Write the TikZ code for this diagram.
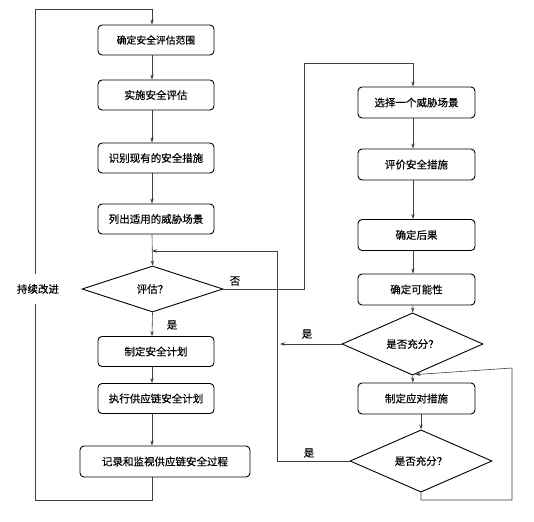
\documentclass[tikz,border=0pt]{standalone}
\usepackage{fontspec}
\newfontfamily\cjk[FakeBold=0.4]{Noto Sans CJK SC}
\usetikzlibrary{shapes.geometric,arrows.meta,calc}
\begin{document}
\begin{tikzpicture}[x=1pt,y=-1pt,
  box/.style={draw=black, line width=0.9pt, rounded corners=4pt, minimum width=116pt, minimum height=30pt, inner sep=0pt, font=\cjk\fontsize{10.5}{12}\selectfont},
  dec/.style={draw=black, line width=0.9pt, diamond, inner sep=0pt, minimum width=141pt, minimum height=46pt, font=\cjk\fontsize{10.5}{12}\selectfont},
  conn/.style={draw=black!75, line width=0.6pt},
  arr/.style={conn, -{Stealth[length=5pt,width=3.4pt]}},
  lbl/.style={font=\cjk\fontsize{10.5}{12}\selectfont, inner sep=1pt}]
\useasboundingbox (0,0) rectangle (534,521);
\coordinate (axL) at (152,0);
\coordinate (axR) at (413,0);
% left column
\node[box, font=\cjk\fontsize{9.8}{12}\selectfont] (b1) at (156,40) {确定安全评估范围};
\node[box] (b2) at (156,95) {实施安全评估};
\node[box] (b3) at (156,158) {识别现有的安全措施};
\node[box] (b4) at (156,219) {列出适用的威胁场景};
\node[dec] (d1) at (152.5,289) {评估？};
\node[box] (b5) at (156,351.5) {制定安全计划};
\node[box] (b6) at (156,398.5) {执行供应链安全计划};
\node[box, minimum width=170pt, minimum height=31pt] (b7) at (165,461.5) {记录和监视供应链安全过程};
% right column
\node[box, minimum width=117pt, minimum height=31pt] (r1) at (416.5,102.5) {选择一个威胁场景};
\node[box, minimum width=117pt, minimum height=31pt] (r2) at (416.5,164.5) {评价安全措施};
\node[box, minimum width=117pt, minimum height=31pt] (r3) at (416.5,235) {确定后果};
\node[box, minimum width=117pt, minimum height=31pt] (r4) at (416.5,289.5) {确定可能性};
\node[dec] (e1) at (412.5,344) {是否充分？};
\node[box, minimum width=117pt, minimum height=31pt] (r5) at (416.5,398.5) {制定应对措施};
\node[dec, minimum width=142pt] (e2) at (421,461) {是否充分？};
% helper coordinates
\coordinate (lpB) at (35,500);
\coordinate (lpT) at (35,9);
\coordinate (jNo) at (304,289);
\coordinate (jTop) at (304,63);
\coordinate (vB) at (277,461);
\coordinate (vT) at (277,251);
\coordinate (vM) at (277,344);
\coordinate (rb) at (421,500);
\coordinate (rc) at (512,500);
\coordinate (rt) at (512,368);
% left connectors
\draw[arr] (b1.south -| axL) -- (b2.north -| axL);
\draw[arr] (b2.south -| axL) -- (b3.north -| axL);
\draw[arr] (b3.south -| axL) -- (b4.north -| axL);
\draw[arr] (b4.south -| axL) -- (d1.north);
\draw[arr] (d1.south) -- (b5.north -| axL);
\draw[arr] (b5.south -| axL) -- (b6.north -| axL);
\draw[arr] (b6.south -| axL) -- (b7.north -| axL);
\draw[arr] (b7.south -| axL) |- (lpB) -- (lpT) -| (b1.north -| axL);
\node[lbl, fill=white, inner ysep=10pt] (ci) at (38,289) {持续改进};
% no branch
\draw[arr] (d1.east) -- (jNo) -- (jTop) -| (r1.north -| axR);
\node[lbl] (no) at (235,281) {否};
\node[lbl] (yes1) at (172,325) {是};
% right connectors
\draw[arr] (r1.south -| axR) -- (r2.north -| axR);
\draw[arr] (r2.south -| axR) -- (r3.north -| axR);
\draw[arr] (r3.south -| axR) -- (r4.north -| axR);
\draw[arr] (r4.south -| axR) -- (e1.north);
\draw[arr] (e1.west) -- ([xshift=3pt]vM);
\node[lbl] (yes2) at (307,334) {是};
\draw[arr] (e1.south) -- (r5.north -| axR);
\draw[arr] (r5.south -| e2.north) -- (e2.north);
\draw[arr] (e2.west) -- (vB) -- (vT) -- (vT -| axL);
\node[lbl] (yes3) at (309,453) {是};
\draw[arr] (e2.south) -- (rb) -- (rc) -- (rt) -- ([xshift=3pt,yshift=1pt]e1.south);
\end{tikzpicture}
\end{document}
